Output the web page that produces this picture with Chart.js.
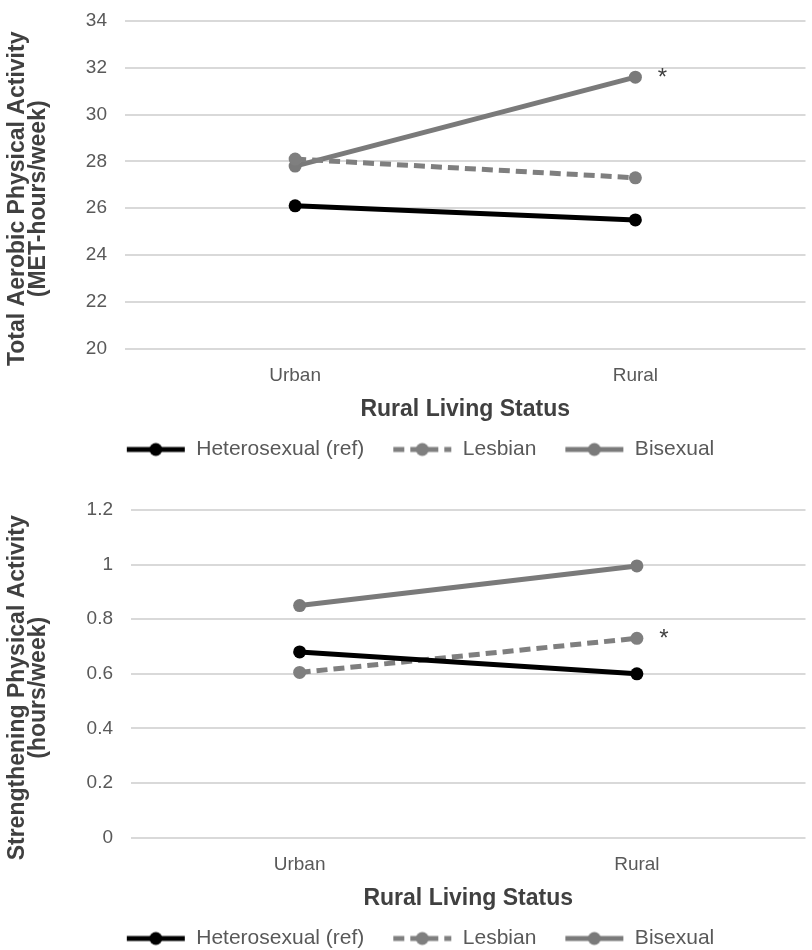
<!DOCTYPE html>
<html>
<head>
<meta charset="utf-8">
<script src="https://cdn.jsdelivr.net/npm/chart.js@4/dist/chart.umd.min.js"></script>
<style>
  html, body { margin: 0; padding: 0; background: #fff; overflow: hidden; }
  .box { position: absolute; left: 0; width: 812px; height: 470px; }
</style>
</head>
<body>
<div class="box" style="top:0"><canvas id="aerobic"></canvas></div>
<div class="box" style="top:489px"><canvas id="strength"></canvas></div>
<script>
// categories and series
const categories = ['Urban', 'Rural'];
const seriesNames = ['Heterosexual (ref)', 'Lesbian', 'Bisexual'];

const aerobicHetero = [26.1, 25.5];
const aerobicLesbian = [28.1, 27.3];
const aerobicBisexual = [27.8, 31.6];
const aerobicTicks = [20, 22, 24, 26, 28, 30, 32, 34];

const strengthHetero = [0.68, 0.60];
const strengthLesbian = [0.605, 0.73];
const strengthBisexual = [0.85, 0.995];
const strengthTicks = [0, 0.2, 0.4, 0.6, 0.8, 1, 1.2];

// which point gets the significance star: [series index, category index]
const aerobicStar = [2, 1];
const strengthStar = [1, 1];

const colors = ['#000000', '#7f7f7f', '#7a7a7a'];
const dashes = [[], [11, 6], []];
const textGray = '#595959';
const titleGray = '#404040';
const fontFamily = '"Liberation Sans", Arial, sans-serif';

// legend sample: line with a dot in the middle
function legendSample(color, dash) {
  const c = document.createElement('canvas');
  c.width = 60; c.height = 16;
  const g = c.getContext('2d');
  g.strokeStyle = color;
  g.lineWidth = 5;
  g.setLineDash(dash);
  g.beginPath(); g.moveTo(1, 8); g.lineTo(59, 8); g.stroke();
  g.fillStyle = color;
  g.beginPath(); g.arc(30, 8, 6.5, 0, Math.PI * 2); g.fill();
  return c;
}
const samples = colors.map((c, i) => legendSample(c, dashes[i]));

const starPlugin = {
  id: 'star',
  afterDatasetsDraw(chart, args, opts) {
    const pt = chart.getDatasetMeta(opts.at[0]).data[opts.at[1]];
    const ctx = chart.ctx;
    ctx.save();
    ctx.fillStyle = titleGray;
    ctx.font = '24px ' + fontFamily;
    ctx.textAlign = 'center';
    ctx.textBaseline = 'middle';
    ctx.fillText('*', pt.x + 27, pt.y + 1);
    ctx.restore();
  }
};

// y axis title, drawn a little below the middle of the plot like the original
const yTitlePlugin = {
  id: 'ytitle',
  afterDraw(chart, args, opts) {
    const ctx = chart.ctx;
    const cy = (chart.chartArea.top + chart.chartArea.bottom) / 2 + 14;
    ctx.save();
    ctx.fillStyle = titleGray;
    ctx.font = 'bold 23px ' + fontFamily;
    ctx.textAlign = 'center';
    ctx.textBaseline = 'middle';
    opts.lines.forEach((line, i) => {
      ctx.save();
      ctx.translate(18 + i * 21, cy);
      ctx.rotate(-Math.PI / 2);
      ctx.fillText(line, 0, 0);
      ctx.restore();
    });
    ctx.restore();
  }
};

function makeChart(id, values, ticks, axisWidth, titleLines, star) {
  return new Chart(id, {
    type: 'line',
    data: {
      labels: categories,
      datasets: values.map((v, i) => ({
        label: seriesNames[i],
        data: v,
        borderColor: colors[i],
        backgroundColor: colors[i],
        borderWidth: 5,
        borderDash: dashes[i],
        pointRadius: 6.5,
        pointBackgroundColor: colors[i],
        pointBorderWidth: 0,
        tension: 0
      }))
    },
    plugins: [starPlugin, yTitlePlugin],
    options: {
      responsive: true,
      maintainAspectRatio: false,
      animation: false,
      layout: { padding: { top: 21, left: 28, right: 0, bottom: 0 } },
      scales: {
        x: {
          offset: true,
          grid: { display: false, drawTicks: false },
          border: { display: false },
          ticks: { color: textGray, padding: 16, font: { size: 19, family: fontFamily } },
          title: {
            display: true,
            text: 'Rural Living Status',
            color: titleGray,
            padding: { top: -8, bottom: -12 },
            font: { size: 23, weight: 'bold', family: fontFamily }
          }
        },
        y: {
          min: ticks[0],
          max: ticks[ticks.length - 1],
          afterBuildTicks: (scale) => { scale.ticks = ticks.map(v => ({ value: v })); },
          afterFit: (scale) => {
            scale.width = axisWidth;
            scale.paddingTop = 0;
            scale.paddingBottom = 0;
          },
          grid: { color: '#d9d9d9', lineWidth: 2, drawTicks: false },
          border: { display: false },
          ticks: {
            color: textGray,
            padding: 18,
            font: { size: 19, family: fontFamily },
            callback: (v) => String(v)
          }
        }
      },
      plugins: {
        legend: {
          position: 'bottom',
          labels: {
            usePointStyle: true,
            pointStyleWidth: 60,
            padding: 28,
            color: textGray,
            font: { size: 21, family: fontFamily },
            generateLabels: (chart) => Chart.defaults.plugins.legend.labels.generateLabels(chart)
              .map((item, i) => Object.assign(item, { pointStyle: samples[i] }))
          }
        },
        tooltip: { enabled: false },
        star: { at: star },
        ytitle: { lines: titleLines }
      }
    }
  });
}

makeChart('aerobic', [aerobicHetero, aerobicLesbian, aerobicBisexual], aerobicTicks, 97,
  ['Total Aerobic Physical Activity', '(MET-hours/week)'], aerobicStar);
makeChart('strength', [strengthHetero, strengthLesbian, strengthBisexual], strengthTicks, 103,
  ['Strengthening Physical Activity', '(hours/week)'], strengthStar);
</script>
</body>
</html>
